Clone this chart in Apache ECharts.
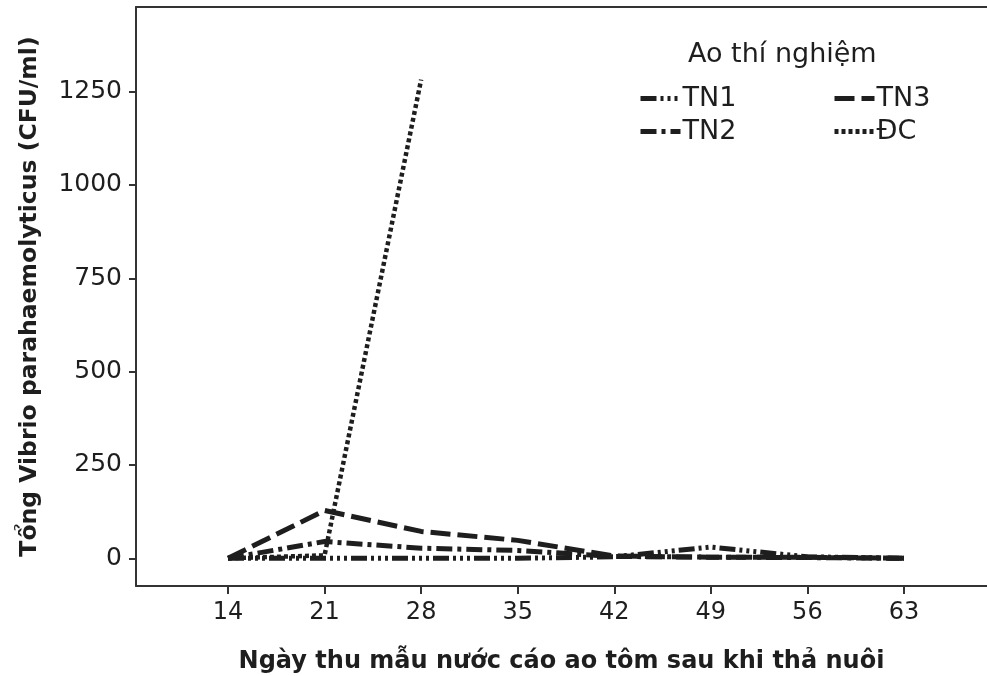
<!DOCTYPE html>
<html>
<head>
<meta charset="utf-8">
<script src="https://cdn.jsdelivr.net/npm/echarts@6/dist/echarts.min.js"></script>
<style>
  html, body { margin: 0; padding: 0; background: #fff; }
  #chart { width: 987px; height: 676px; }
</style>
</head>
<body>
<div id="chart"></div>
<script>
// ngày thu mẫu
const days = [14, 21, 28, 35, 42, 49, 56, 63];
const yTicks = [0, 250, 500, 750, 1000, 1250];

const tn1 = [0, 0, 0, 0, 4, 30, 4, 0];
const tn2 = [0, 45, 27, 21, 5, 3, 2, 0];
const tn3 = [0, 128, 72, 48, 6, 3, 3, 0];
const dc = [0, 8, 1282];

const ink = '#1e1e1e';
const font = 'DejaVu Sans';

function pairs(vals) {
  return vals.map((v, i) => [days[i], v]);
}

function lineSeries(name, vals, dash, width) {
  return {
    name: name,
    type: 'line',
    data: pairs(vals),
    symbol: 'none',
    smooth: false,
    lineStyle: { color: ink, width: width, type: dash, cap: 'butt' },
    itemStyle: { color: ink }
  };
}

const chart = echarts.init(document.getElementById('chart'));

const legendCommon = {
  orient: 'vertical',
  top: 80,
  itemWidth: 40,
  itemHeight: 14,
  itemGap: 6,
  itemStyle: { opacity: 0 },
  lineStyle: { width: 5 },
  textStyle: { fontFamily: font, fontSize: 27, color: ink, padding: [0, 0, 0, -3] },
  selectedMode: false
};

chart.setOption({
  animation: false,
  backgroundColor: '#fff',
  grid: { left: 136, right: 0, top: 7, bottom: 90, outerBoundsMode: 'none', containLabel: false },
  title: {
    text: 'Ao thí nghiệm',
    left: 683,
    top: 36,
    textStyle: { fontFamily: font, fontSize: 27, fontWeight: 'normal', color: ink }
  },
  legend: [
    Object.assign({ left: 633, data: ['TN1', 'TN2'] }, legendCommon),
    Object.assign({ left: 827, data: ['TN3', 'ĐC'] }, legendCommon)
  ],
  xAxis: [{
    type: 'value',
    min: 7.33,
    max: 69.02,
    name: 'Ngày thu mẫu nước cáo ao tôm sau khi thả nuôi',
    nameLocation: 'middle',
    nameGap: 64,
    nameTextStyle: { fontFamily: font, fontSize: 24, fontWeight: 'bold', color: ink },
    axisLine: { show: true, onZero: false, lineStyle: { color: '#333', width: 2 } },
    axisTick: { show: true, length: 8, customValues: days, lineStyle: { color: '#333', width: 2 } },
    axisLabel: { customValues: days, margin: 15, fontFamily: font, fontSize: 24, color: ink },
    splitLine: { show: false }
  }, {
    type: 'value',
    position: 'top',
    min: 7.33,
    max: 69.02,
    axisLine: { show: true, onZero: false, lineStyle: { color: '#333', width: 2 } },
    axisTick: { show: false },
    axisLabel: { show: false },
    splitLine: { show: false }
  }],
  yAxis: {
    type: 'value',
    min: -74.2,
    max: 1476.6,
    name: 'Tổng Vibrio parahaemolyticus (CFU/ml)',
    nameLocation: 'middle',
    nameGap: 94,
    nameTextStyle: { fontFamily: font, fontSize: 23.5, fontWeight: 'bold', color: ink },
    axisLine: { show: true, onZero: false, lineStyle: { color: '#333', width: 2 } },
    axisTick: { show: true, length: 7, customValues: yTicks, lineStyle: { color: '#333', width: 2 } },
    axisLabel: {
      customValues: yTicks, margin: 14, fontFamily: font, fontSize: 25, color: ink,
      formatter: v => String(v)
    },
    splitLine: { show: false }
  },
  series: [
    lineSeries('TN1', tn1, [16, 4, 3, 4, 3, 4, 3, 4], 5),
    lineSeries('TN2', tn2, [16, 5, 4, 5], 5),
    lineSeries('TN3', tn3, [20, 7], 5),
    lineSeries('ĐC', dc, [4, 3], 4.5)
  ]
});
</script>
</body>
</html>
